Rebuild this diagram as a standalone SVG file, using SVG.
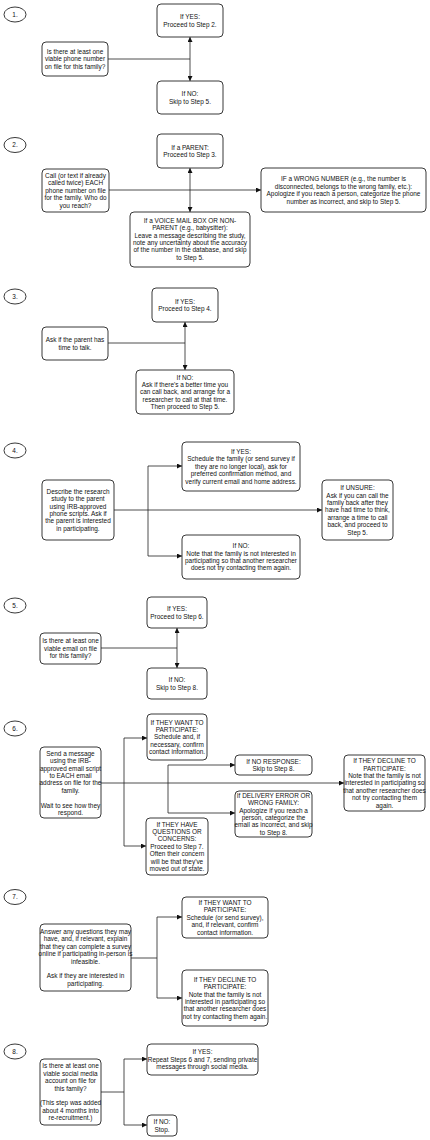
<svg xmlns="http://www.w3.org/2000/svg" width="430" height="1140" viewBox="0 0 430 1140">
<style>
.b{fill:#fff;stroke:#222;stroke-width:0.9}
.t{font-family:"Liberation Sans",Arial,sans-serif;font-size:6.45px;fill:#111;text-anchor:middle}
.c{fill:none;stroke:#222;stroke-width:0.8}
</style>
<defs>
<marker id="ah" markerUnits="userSpaceOnUse" markerWidth="5" markerHeight="5" viewBox="0 0 4 4" refX="4" refY="2" orient="auto">
<path d="M0,0 L4,2 L0,4 z" fill="#111"/>
</marker>
</defs>
<rect width="430" height="1140" fill="#fff"/>

<g id="connectors">
<path class="c" d="M108,59 H190"/>
<path class="c" d="M190,59 V37" marker-end="url(#ah)"/>
<path class="c" d="M190,59 V81" marker-end="url(#ah)"/>
<path class="c" d="M109,190 H261" marker-end="url(#ah)"/>
<path class="c" d="M190,190 V168" marker-end="url(#ah)"/>
<path class="c" d="M190,190 V212" marker-end="url(#ah)"/>
<path class="c" d="M108,343 H185"/>
<path class="c" d="M185,343 V322" marker-end="url(#ah)"/>
<path class="c" d="M185,343 V370" marker-end="url(#ah)"/>
<path class="c" d="M114,510 H322" marker-end="url(#ah)"/>
<path class="c" d="M148,510 V466 H182" marker-end="url(#ah)"/>
<path class="c" d="M148,510 V556 H182" marker-end="url(#ah)"/>
<path class="c" d="M101,648 H177"/>
<path class="c" d="M177,648 V628" marker-end="url(#ah)"/>
<path class="c" d="M177,648 V668" marker-end="url(#ah)"/>
<path class="c" d="M101,783 H344" marker-end="url(#ah)"/>
<path class="c" d="M124,783 V738 H147" marker-end="url(#ah)"/>
<path class="c" d="M124,783 V846 H146" marker-end="url(#ah)"/>
<path class="c" d="M168,783 V765 H235" marker-end="url(#ah)"/>
<path class="c" d="M168,783 V813 H235" marker-end="url(#ah)"/>
<path class="c" d="M131,958 H157 V917 H182" marker-end="url(#ah)"/>
<path class="c" d="M157,958 V998 H182" marker-end="url(#ah)"/>
<path class="c" d="M101,1092 H124 V1059 H147" marker-end="url(#ah)"/>
<path class="c" d="M124,1092 V1125 H147" marker-end="url(#ah)"/>
</g>

<g id="step1">
<ellipse class="b" cx="15" cy="14.5" rx="11" ry="7.5"/>
<text class="t" x="15" y="16.8">1.</text>
</g>
<g id="s1yes">
<rect class="b" x="157" y="4" width="66" height="33" rx="4"/>
<text class="t" x="190" y="19.1">If YES:<tspan x="190" dy="7.4">Proceed to Step 2.</tspan></text>
</g>
<g id="s1q">
<rect class="b" x="42" y="42" width="66" height="34" rx="4"/>
<text class="t" x="75" y="53.9">Is there at least one<tspan x="75" dy="7.4">viable phone number</tspan><tspan x="75" dy="7.4">on file for this family?</tspan></text>
</g>
<g id="s1no">
<rect class="b" x="157" y="81" width="66" height="33" rx="4"/>
<text class="t" x="190" y="96.1">If NO:<tspan x="190" dy="7.4">Skip to Step 5.</tspan></text>
</g>

<g id="step2">
<ellipse class="b" cx="15" cy="145" rx="11" ry="7.5"/>
<text class="t" x="15" y="147.3">2.</text>
</g>
<g id="s2parent">
<rect class="b" x="157" y="134" width="66" height="34" rx="4"/>
<text class="t" x="190" y="149.6">If a PARENT:<tspan x="190" dy="7.4">Proceed to Step 3.</tspan></text>
</g>
<g id="s2call">
<rect class="b" x="42" y="169" width="67" height="43" rx="4"/>
<text class="t" x="75.5" y="178">Call (or text if already<tspan x="75.5" dy="7.4">called twice) EACH</tspan><tspan x="75.5" dy="7.4">phone number on file</tspan><tspan x="75.5" dy="7.4">for the family. Who do</tspan><tspan x="75.5" dy="7.4">you reach?</tspan></text>
</g>
<g id="s2wrong">
<rect class="b" x="261" y="168" width="165" height="44" rx="4"/>
<text class="t" x="343.5" y="181.4">IF a WRONG NUMBER (e.g., the number is<tspan x="343.5" dy="7.4">disconnected, belongs to the wrong family, etc.):</tspan><tspan x="343.5" dy="7.4">Apologize if you reach a person, categorize the phone</tspan><tspan x="343.5" dy="7.4">number as incorrect, and skip to Step 5.</tspan></text>
</g>
<g id="s2voice">
<rect class="b" x="130" y="212" width="120" height="55" rx="4"/>
<text class="t" x="190" y="222.8">If a VOICE MAIL BOX OR NON-<tspan x="190" dy="7.4">PARENT (e.g., babysitter):</tspan><tspan x="190" dy="7.4">Leave a message describing the study,</tspan><tspan x="190" dy="7.4">note any uncertainty about the accuracy</tspan><tspan x="190" dy="7.4">of the number in the database, and skip</tspan><tspan x="190" dy="7.4">to Step 5.</tspan></text>
</g>

<g id="step3">
<ellipse class="b" cx="15" cy="296.5" rx="11" ry="7.5"/>
<text class="t" x="15" y="298.8">3.</text>
</g>
<g id="s3yes">
<rect class="b" x="152" y="288" width="66" height="34" rx="4"/>
<text class="t" x="185" y="303.6">If YES:<tspan x="185" dy="7.4">Proceed to Step 4.</tspan></text>
</g>
<g id="s3ask">
<rect class="b" x="42" y="327" width="66" height="33" rx="4"/>
<text class="t" x="75" y="342.1">Ask if the parent has<tspan x="75" dy="7.4">time to talk.</tspan></text>
</g>
<g id="s3no">
<rect class="b" x="136" y="370" width="98" height="44" rx="4"/>
<text class="t" x="185" y="379.5">If NO:<tspan x="185" dy="7.4">Ask if there's a better time you</tspan><tspan x="185" dy="7.4">can call back, and arrange for a</tspan><tspan x="185" dy="7.4">researcher to call at that time.</tspan><tspan x="185" dy="7.4">Then proceed to Step 5.</tspan></text>
</g>

<g id="step4">
<ellipse class="b" cx="15" cy="450.5" rx="11" ry="7.5"/>
<text class="t" x="15" y="452.8">4.</text>
</g>
<g id="s4yes">
<rect class="b" x="182" y="442" width="118" height="49" rx="4"/>
<text class="t" x="241" y="454">If YES:<tspan x="241" dy="7.4">Schedule the family (or send survey if</tspan><tspan x="241" dy="7.4">they are no longer local), ask for</tspan><tspan x="241" dy="7.4">preferred confirmation method, and</tspan><tspan x="241" dy="7.4">verify current email and home address.</tspan></text>
</g>
<g id="s4describe">
<rect class="b" x="42" y="480" width="72" height="60" rx="4"/>
<text class="t" x="78" y="493.8">Describe the research<tspan x="78" dy="7.4">study to the parent</tspan><tspan x="78" dy="7.4">using IRB-approved</tspan><tspan x="78" dy="7.4">phone scripts. Ask if</tspan><tspan x="78" dy="7.4">the parent is interested</tspan><tspan x="78" dy="7.4">in participating.</tspan></text>
</g>
<g id="s4unsure">
<rect class="b" x="322" y="480" width="71" height="60" rx="4"/>
<text class="t" x="357.5" y="490.1">If UNSURE:<tspan x="357.5" dy="7.4">Ask if you can call the</tspan><tspan x="357.5" dy="7.4">family back after they</tspan><tspan x="357.5" dy="7.4">have had time to think,</tspan><tspan x="357.5" dy="7.4">arrange a time to call</tspan><tspan x="357.5" dy="7.4">back, and proceed to</tspan><tspan x="357.5" dy="7.4">Step 5.</tspan></text>
</g>
<g id="s4no">
<rect class="b" x="182" y="535" width="118" height="44" rx="4"/>
<text class="t" x="241" y="548.2">If NO:<tspan x="241" dy="7.4">Note that the family is not interested in</tspan><tspan x="241" dy="7.4">participating so that another researcher</tspan><tspan x="241" dy="7.4">does not try contacting them again.</tspan></text>
</g>

<g id="step5">
<ellipse class="b" cx="15" cy="605.5" rx="11" ry="7.5"/>
<text class="t" x="15" y="607.8">5.</text>
</g>
<g id="s5yes">
<rect class="b" x="147" y="597" width="60" height="31" rx="4"/>
<text class="t" x="177" y="611.1">If YES:<tspan x="177" dy="7.4">Proceed to Step 6.</tspan></text>
</g>
<g id="s5q">
<rect class="b" x="40" y="633" width="61" height="31" rx="4"/>
<text class="t" x="70.5" y="643.4">Is there at least one<tspan x="70.5" dy="7.4">viable email on file</tspan><tspan x="70.5" dy="7.4">for this family?</tspan></text>
</g>
<g id="s5no">
<rect class="b" x="147" y="668" width="60" height="31" rx="4"/>
<text class="t" x="177" y="682.1">If NO:<tspan x="177" dy="7.4">Skip to Step 8.</tspan></text>
</g>

<g id="step6">
<ellipse class="b" cx="15" cy="728.5" rx="11" ry="7.5"/>
<text class="t" x="15" y="730.8">6.</text>
</g>
<g id="s6want">
<rect class="b" x="147" y="714" width="60" height="46" rx="4"/>
<text class="t" x="177" y="724.5">If THEY WANT TO<tspan x="177" dy="7.4">PARTICIPATE:</tspan><tspan x="177" dy="7.4">Schedule and, if</tspan><tspan x="177" dy="7.4">necessary, confirm</tspan><tspan x="177" dy="7.4">contact information.</tspan></text>
</g>
<g id="s6send">
<rect class="b" x="40" y="747" width="61" height="71" rx="4"/>
<text class="t" x="70.5" y="755.8">Send a message<tspan x="70.5" dy="7.4">using the IRB-</tspan><tspan x="70.5" dy="7.4">approved email script</tspan><tspan x="70.5" dy="7.4">to EACH email</tspan><tspan x="70.5" dy="7.4">address on file for the</tspan><tspan x="70.5" dy="7.4">family.</tspan><tspan x="70.5" dy="14.8">Wait to see how they</tspan><tspan x="70.5" dy="7.4">respond.</tspan></text>
</g>
<g id="s6noresp">
<rect class="b" x="235" y="755" width="77" height="20" rx="4"/>
<text class="t" x="273.5" y="763.6">If NO RESPONSE:<tspan x="273.5" dy="7.4">Skip to Step 8.</tspan></text>
</g>
<g id="s6delivery">
<rect class="b" x="235" y="791" width="77" height="46" rx="4"/>
<text class="t" x="273.5" y="797.8">If DELIVERY ERROR OR<tspan x="273.5" dy="7.4">WRONG FAMILY:</tspan><tspan x="273.5" dy="7.4">Apologize if you reach a</tspan><tspan x="273.5" dy="7.4">person, categorize the</tspan><tspan x="273.5" dy="7.4">email as incorrect, and skip</tspan><tspan x="273.5" dy="7.4">to Step 8.</tspan></text>
</g>
<g id="s6decline">
<rect class="b" x="344" y="755" width="81" height="56" rx="4"/>
<text class="t" x="384.5" y="763.1">If THEY DECLINE TO<tspan x="384.5" dy="7.4">PARTICIPATE:</tspan><tspan x="384.5" dy="7.4">Note that the family is not</tspan><tspan x="384.5" dy="7.4">interested in participating so</tspan><tspan x="384.5" dy="7.4">that another researcher does</tspan><tspan x="384.5" dy="7.4">not try contacting them</tspan><tspan x="384.5" dy="7.4">again.</tspan></text>
</g>
<g id="s6questions">
<rect class="b" x="146" y="818" width="62" height="57" rx="4"/>
<text class="t" x="177" y="826.6">If THEY HAVE<tspan x="177" dy="7.4">QUESTIONS OR</tspan><tspan x="177" dy="7.4">CONCERNS:</tspan><tspan x="177" dy="7.4">Proceed to Step 7.</tspan><tspan x="177" dy="7.4">Often their concern</tspan><tspan x="177" dy="7.4">will be that they've</tspan><tspan x="177" dy="7.4">moved out of state.</tspan></text>
</g>

<g id="step7">
<ellipse class="b" cx="15" cy="897" rx="11" ry="7.5"/>
<text class="t" x="15" y="899.3">7.</text>
</g>
<g id="s7want">
<rect class="b" x="182" y="897" width="86" height="41" rx="4"/>
<text class="t" x="225" y="905">If THEY WANT TO<tspan x="225" dy="7.4">PARTICIPATE:</tspan><tspan x="225" dy="7.4">Schedule (or send survey),</tspan><tspan x="225" dy="7.4">and, if relevant, confirm</tspan><tspan x="225" dy="7.4">contact information.</tspan></text>
</g>
<g id="s7answer">
<rect class="b" x="40" y="924" width="91" height="67" rx="4"/>
<text class="t" x="85.5" y="933.9">Answer any questions they may<tspan x="85.5" dy="7.4">have, and, if relevant, explain</tspan><tspan x="85.5" dy="7.4">that they can complete a survey</tspan><tspan x="85.5" dy="7.4">online if participating in-person is</tspan><tspan x="85.5" dy="7.4">infeasible.</tspan><tspan x="85.5" dy="14.8">Ask if they are interested in</tspan><tspan x="85.5" dy="7.4">participating.</tspan></text>
</g>
<g id="s7decline">
<rect class="b" x="182" y="970" width="86" height="56" rx="4"/>
<text class="t" x="225" y="981.8">If THEY DECLINE TO<tspan x="225" dy="7.4">PARTICIPATE:</tspan><tspan x="225" dy="7.4">Note that the family is not</tspan><tspan x="225" dy="7.4">interested in participating so</tspan><tspan x="225" dy="7.4">that another researcher does</tspan><tspan x="225" dy="7.4">not try contacting them again.</tspan></text>
</g>

<g id="step8">
<ellipse class="b" cx="15" cy="1051.5" rx="11" ry="7.5"/>
<text class="t" x="15" y="1053.8">8.</text>
</g>
<g id="s8yes">
<rect class="b" x="147" y="1044" width="111" height="31" rx="4"/>
<text class="t" x="202.5" y="1054.4">If YES:<tspan x="202.5" dy="7.4">Repeat Steps 6 and 7, sending private</tspan><tspan x="202.5" dy="7.4">messages through social media.</tspan></text>
</g>
<g id="s8q">
<rect class="b" x="40" y="1059" width="61" height="66" rx="4"/>
<text class="t" x="70.5" y="1068.4">Is there at least one<tspan x="70.5" dy="7.4">viable social media</tspan><tspan x="70.5" dy="7.4">account on file for</tspan><tspan x="70.5" dy="7.4">this family?</tspan><tspan x="70.5" dy="14.8">(This step was added</tspan><tspan x="70.5" dy="7.4">about 4 months into</tspan><tspan x="70.5" dy="7.4">re-recruitment.)</tspan></text>
</g>
<g id="s8no">
<rect class="b" x="147" y="1115" width="30" height="21" rx="4"/>
<text class="t" x="162" y="1124.1">If NO:<tspan x="162" dy="7.4">Stop.</tspan></text>
</g>
</svg>
